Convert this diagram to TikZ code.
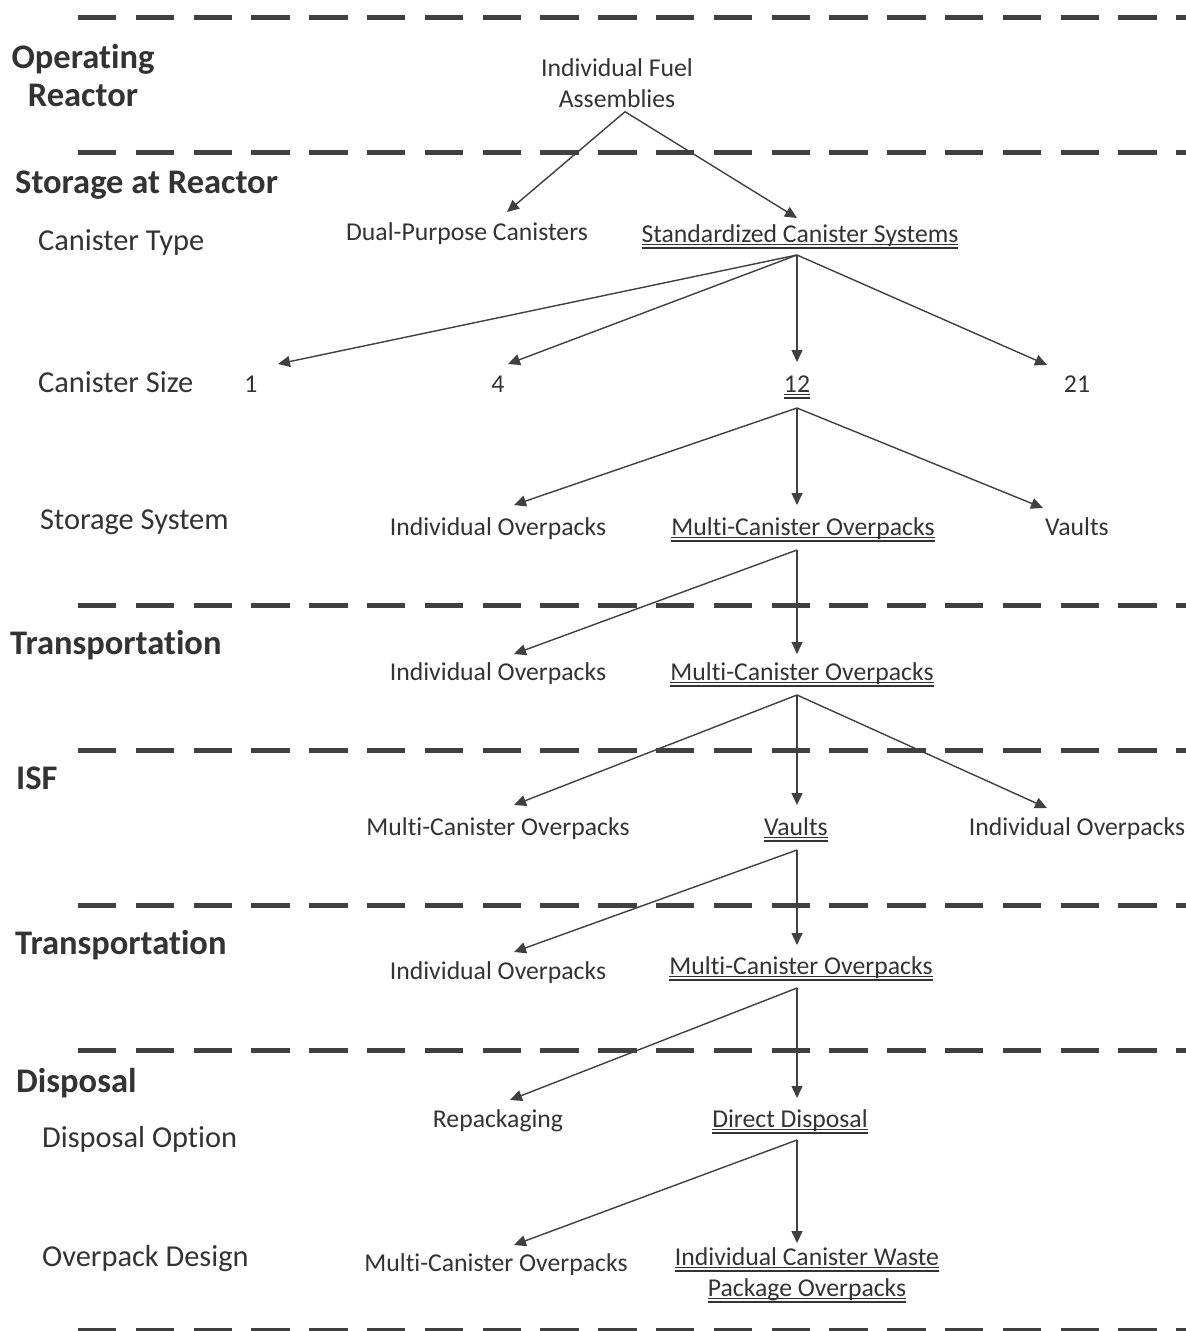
\documentclass[tikz,border=0pt]{standalone}
\usepackage{fontspec}
\setmainfont{Carlito}[Ligatures=NoCommon]
\usetikzlibrary{arrows.meta}
\definecolor{txt}{HTML}{333333}
\definecolor{ln}{HTML}{404040}
\newcommand\dul[1]{\leavevmode\setbox0\hbox{#1}\rlap{\raisebox{-3.2pt}{\color{txt}\rule{\wd0}{1.3pt}}}\rlap{\raisebox{-6.7pt}{\color{txt}\rule{\wd0}{1.3pt}}}\box0}
\begin{document}
\begin{tikzpicture}[x=1pt,y=-1pt,
  lbl/.style={font=\fontsize{25.7}{30}\selectfont, text=txt, inner sep=0pt, anchor=base},
  lbltwo/.style={font=\fontsize{25.7}{31}\selectfont, text=txt, inner sep=0pt, align=center, anchor=center},
  rowlbl/.style={font=\fontsize{30.4}{36}\selectfont, text=txt, inner sep=0pt, anchor=base west},
  hdr/.style={font=\fontsize{34.5}{38}\selectfont\bfseries, text=txt, inner sep=0pt, anchor=base west},
  sep/.style={draw=ln, line width=5pt, dash pattern=on 38.3pt off 19.5pt},
  arr/.style={draw=ln, line width=1.4pt, -{Triangle[length=12pt,width=11pt]}}]
\useasboundingbox (0,0) rectangle (1186,1331);
\fill[white] (0,0) rectangle (1186,1331);
% separators
\foreach \yy in {17,152,605,750,905,1050,1330} \draw[sep] (78,\yy) -- (1200,\yy);
% left headers
\node[hdr, align=center, anchor=center] (hOR) at (83,76) {Operating\\Reactor};
\node[hdr] (hSR) at (15,193) {Storage at Reactor};
\node[rowlbl] (rCT) at (38,250) {Canister Type};
\node[rowlbl] (rCS) at (38,392) {Canister Size};
\node[rowlbl] (rSS) at (40,529) {Storage System};
\node[hdr] (hT1) at (10,654) {Transportation};
\node[hdr] (hISF) at (16,789) {ISF};
\node[hdr] (hT2) at (15,954) {Transportation};
\node[hdr] (hD) at (16,1092) {Disposal};
\node[rowlbl] (rDO) at (42,1147) {Disposal Option};
\node[rowlbl] (rOD) at (42,1266) {Overpack Design};
% tree nodes
\node[lbltwo] (fuel) at (617,83) {Individual Fuel\\Assemblies};
\node[lbl] (dpc) at (467,240) {Dual-Purpose Canisters};
\node[lbl] (std) at (800,242) {\dul{Standardized Canister Systems}};
\node[lbl] (n1) at (251,392) {1};
\node[lbl] (n4) at (498,392) {4};
\node[lbl] (n12) at (797,392) {\dul{12}};
\node[lbl] (n21) at (1077,392) {21};
\node[lbl] (io1) at (498,535) {Individual Overpacks};
\node[lbl] (mco1) at (803,535) {\dul{Multi-Canister Overpacks}};
\node[lbl] (v1) at (1077,535) {Vaults};
\node[lbl] (io2) at (498,680) {Individual Overpacks};
\node[lbl] (mco2) at (802,680) {\dul{Multi-Canister Overpacks}};
\node[lbl] (mco3) at (498,835) {Multi-Canister Overpacks};
\node[lbl] (v3) at (796,835) {\dul{Vaults}};
\node[lbl] (io3) at (1077,835) {Individual Overpacks};
\node[lbl] (io4) at (498,979) {Individual Overpacks};
\node[lbl] (mco4) at (801,974) {\dul{Multi-Canister Overpacks}};
\node[lbl] (rep) at (498,1127) {Repackaging};
\node[lbl] (dd) at (790,1127) {\dul{Direct Disposal}};
\node[lbl] (mco5) at (496,1271) {Multi-Canister Overpacks};
\node[lbltwo] (icw) at (807,1275) {\dul{Individual Canister Waste}\\\dul{Package Overpacks}};
% connectors
\draw[arr] ([shift={(8,4)}]fuel.south) -- ([shift={(40,-28)}]dpc.base);
\draw[arr] ([shift={(8,4)}]fuel.south) -- ([shift={(-3,-24)}]std.base);
\draw[arr] ([shift={(-3,13)}]std.base) -- ([shift={(27,-28)}]n1.base);
\draw[arr] ([shift={(-3,13)}]std.base) -- ([shift={(10,-28)}]n4.base);
\draw[arr] ([shift={(-3,13)}]std.base) -- ([shift={(0,-30)}]n12.base);
\draw[arr] ([shift={(-3,13)}]std.base) -- ([shift={(-30,-27)}]n21.base);
\draw[arr] ([shift={(0,16)}]n12.base) -- ([shift={(16,-30)}]io1.base);
\draw[arr] ([shift={(0,16)}]n12.base) -- ([shift={(-6,-30)}]mco1.base);
\draw[arr] ([shift={(0,16)}]n12.base) -- ([shift={(-34,-27)}]v1.base);
\draw[arr] ([shift={(-6,15)}]mco1.base) -- ([shift={(16,-26)}]io2.base);
\draw[arr] ([shift={(-6,15)}]mco1.base) -- ([shift={(-5,-26)}]mco2.base);
\draw[arr] ([shift={(-5,15)}]mco2.base) -- ([shift={(16,-30)}]mco3.base);
\draw[arr] ([shift={(-5,15)}]mco2.base) -- ([shift={(1,-30)}]v3.base);
\draw[arr] ([shift={(-5,15)}]mco2.base) -- ([shift={(-30,-27)}]io3.base);
\draw[arr] ([shift={(1,15)}]v3.base) -- ([shift={(16,-27)}]io4.base);
\draw[arr] ([shift={(1,15)}]v3.base) -- ([shift={(-4,-29)}]mco4.base);
\draw[arr] ([shift={(-4,14)}]mco4.base) -- ([shift={(12,-27)}]rep.base);
\draw[arr] ([shift={(-4,14)}]mco4.base) -- ([shift={(7,-29)}]dd.base);
\draw[arr] ([shift={(7,13)}]dd.base) -- ([shift={(18,-26)}]mco5.base);
\draw[arr] ([shift={(7,13)}]dd.base) -- ([shift={(-10,-4)}]icw.north);
\end{tikzpicture}
\end{document}
